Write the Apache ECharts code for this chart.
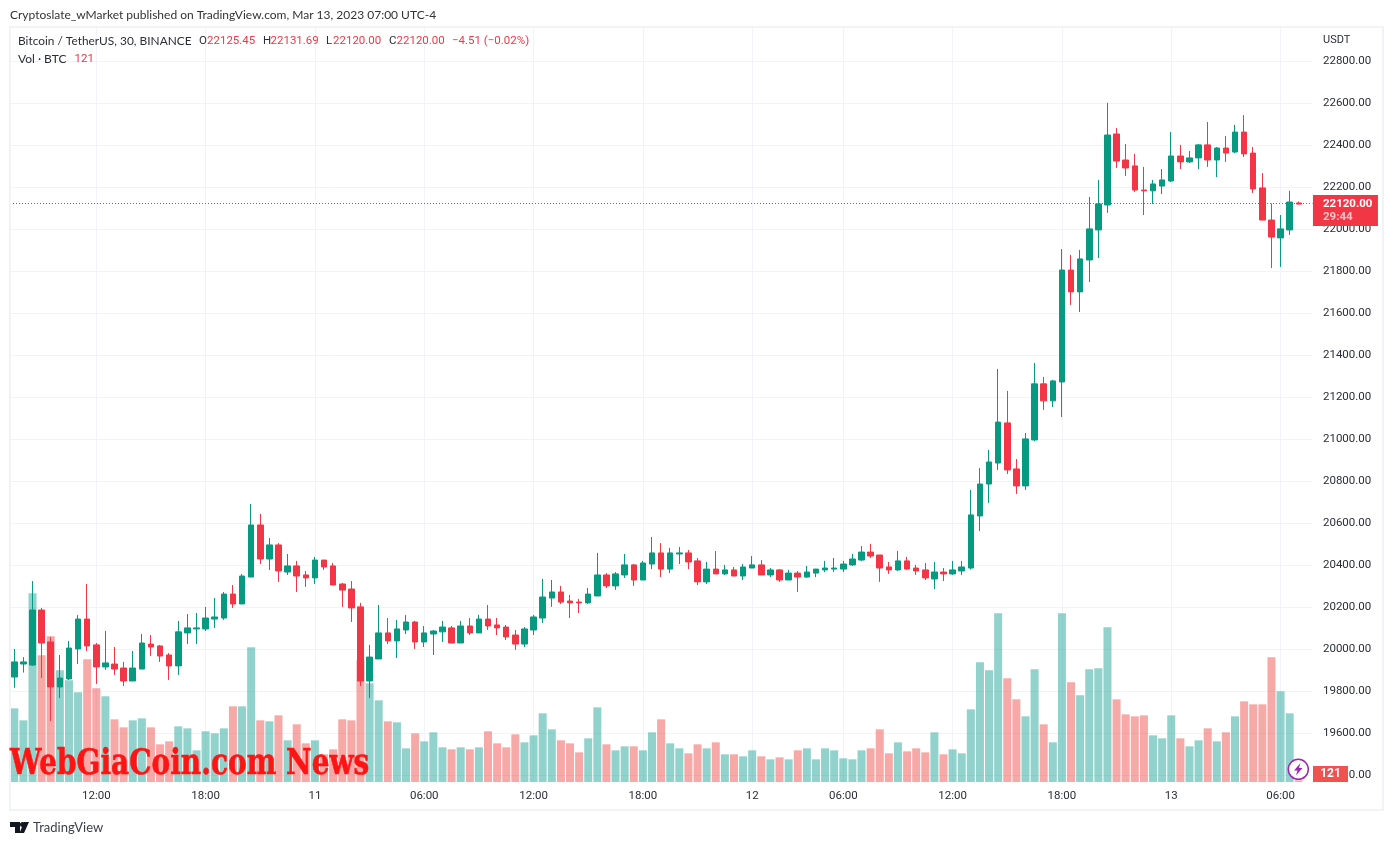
<!DOCTYPE html>
<html>
<head>
<meta charset="utf-8">
<script src="https://cdn.jsdelivr.net/npm/echarts@6/dist/echarts.min.js"></script>
<style>html,body{margin:0;padding:0;background:#fff}#c{width:1393px;height:845px}</style>
</head>
<body>
<div id="c"></div>
<script>
const opens=[19868,19930,19925,20187,20035,19821,19859,20002,20144,20021,19916,19930,19911,19849,19906,20025,20016,19973,19921,20078,20097,20097,20144,20149,20263,20216,20344,20592,20430,20497,20368,20397,20354,20340,20425,20397,20311,20287,20202,19849,19954,20078,20040,20092,20130,20035,20073,20083,20102,20030,20111,20078,20144,20116,20106,20068,20025,20092,20149,20244,20273,20230,20225,20221,20254,20354,20302,20354,20402,20330,20406,20459,20382,20454,20459,20421,20321,20382,20359,20378,20349,20387,20402,20354,20378,20330,20363,20344,20363,20378,20382,20382,20402,20425,20463,20449,20392,20378,20421,20387,20378,20335,20368,20359,20373,20387,20635,20787,20887,21078,20859,20778,20997,21264,21183,21273,21806,21702,21854,21997,22116,22454,22330,22302,22187,22183,22206,22230,22349,22321,22340,22402,22330,22387,22368,22463,22363,22197,22044,21959,21997,22125.45];
const highs=[20002,19963,20325,20197,20059,19973,20040,20163,20311,20030,20087,20011,19940,19992,20073,20068,20021,19982,20135,20168,20173,20202,20244,20273,20306,20359,20692,20644,20530,20506,20454,20421,20373,20440,20425,20411,20316,20325,20221,20021,20211,20149,20140,20163,20135,20111,20092,20135,20111,20135,20149,20164,20211,20149,20116,20092,20106,20164,20335,20330,20302,20259,20240,20292,20459,20363,20368,20454,20406,20421,20535,20506,20483,20487,20473,20435,20416,20468,20402,20392,20406,20444,20425,20387,20382,20378,20373,20397,20382,20421,20435,20421,20454,20492,20502,20449,20416,20468,20440,20402,20411,20416,20387,20421,20421,20759,20863,20949,21335,21230,20906,21030,21363,21297,21283,21906,21878,21902,22154,22235,22602,22482,22406,22359,22297,22235,22287,22463,22402,22373,22406,22511,22392,22444,22497,22544,22392,22268,22123,22068,22183,22131.69];
const lows=[19817,19889,19921,19863,19659,19768,19854,19930,19992,19835,19902,19878,19825,19849,19906,19968,19940,19854,19878,20025,20025,20087,20102,20140,20197,20216,20344,20406,20378,20321,20354,20273,20297,20311,20378,20306,20202,20130,19825,19768,19954,20025,19959,20073,20002,20011,19973,20035,20030,20030,20068,20078,20092,20068,20044,19997,20011,20068,20125,20202,20216,20149,20173,20216,20254,20292,20283,20340,20302,20330,20382,20344,20363,20406,20382,20306,20311,20359,20354,20349,20330,20387,20354,20344,20321,20330,20273,20340,20344,20368,20368,20368,20397,20421,20435,20321,20359,20373,20378,20354,20330,20287,20325,20354,20354,20380,20563,20697,20854,20835,20740,20759,20992,21140,21154,21106,21640,21606,21749,21863,22078,22292,22254,22178,22068,22121,22168,22225,22287,22316,22287,22297,22249,22321,22363,22344,22173,22044,21816,21821,21973,22120];
const closes=[19940,19940,20187,20030,19821,19863,20006,20144,20016,19916,19935,19906,19849,19911,20030,20011,19968,19921,20083,20102,20102,20149,20154,20263,20216,20349,20592,20430,20497,20373,20397,20349,20340,20425,20392,20306,20282,20197,19849,19963,20078,20040,20097,20130,20035,20078,20087,20106,20030,20111,20078,20144,20111,20102,20059,20025,20097,20154,20249,20273,20225,20221,20221,20263,20354,20302,20359,20402,20330,20411,20459,20382,20459,20459,20416,20321,20382,20359,20378,20349,20392,20402,20354,20378,20330,20363,20344,20368,20382,20387,20387,20406,20430,20463,20444,20387,20378,20421,20382,20373,20340,20368,20359,20378,20392,20640,20787,20892,21082,20854,20778,21002,21264,21183,21278,21806,21702,21859,22002,22121,22449,22325,22292,22187,22183,22216,22235,22349,22321,22340,22402,22330,22387,22363,22463,22359,22192,22044,21963,22002,22130,22120];
const volumes=[5304,4440,13584,9120,10488,8040,7320,6456,8832,6744,6168,4512,3936,4440,4584,3936,2712,2928,4008,3864,2280,3648,3504,3864,5448,5448,9696,4440,4368,4800,3000,4152,2784,3000,1992,2352,4512,4440,8760,7104,5880,4368,4296,2424,3504,2928,3576,2496,2352,2496,2352,2496,3648,2784,2496,3432,2856,3360,4944,3792,3000,2784,2136,3144,5376,2712,2280,2568,2568,2280,3576,4512,2784,2424,2064,2712,2424,2856,1992,1992,1848,2280,1848,1632,1776,1632,2280,2424,1632,2424,2280,1704,1632,2280,2424,3792,2064,2856,2208,2424,2136,3576,1992,2352,2064,5232,8616,8040,12144,7464,5952,4728,8112,4152,2856,12144,7176,6240,8112,8184,11136,5952,4872,4728,4800,3360,3144,4800,3144,2568,3000,3864,2928,3576,4728,5808,5592,5592,8976,6528,4944,121];
const tickIndex=[9,21,33,45,57,69,81,91,103,115,127,139];
const tickLabels=['12:00','18:00','11','06:00','12:00','18:00','12','06:00','12:00','18:00','13','06:00'];
const lastPrice=22120;
const volMax=54288;
const UP='#089981',DOWN='#f23645',VUP='rgba(38,166,154,0.5)',VDOWN='rgba(239,83,80,0.5)';
const GRID='#f0f3fa',TXT='#2a2e39';
const FONT='Roboto, sans-serif';
const WORDS='Lato, sans-serif';

const categories=[];
for(let i=0;i<143;i++)categories.push(String(i));
const isTick=i=>tickIndex.indexOf(i)>=0;

const candleData=opens.map((o,i)=>[o,closes[i],lows[i],highs[i]]);
const volData=volumes.map((v,i)=>({value:v,itemStyle:{color:closes[i]>opens[i]?VUP:VDOWN}}));

const chart=echarts.init(document.getElementById('c'),null,{renderer:'canvas'});
const txt=(text,x,y,fill,size,fam,sx)=>({type:'text',z:50,x,y,scaleX:sx||1,style:{text,x:0,y:0,fill,font:(size||12)+'px '+(fam||FONT),textVerticalAlign:'middle'}});
const H=41.5,H2=59;
chart.setOption({
 animation:false,
 backgroundColor:'#ffffff',
 grid:[
  {left:9.75,right:80.55,top:19.3,height:798},
  {left:9.75,right:80.55,top:28,height:754}
 ],
 xAxis:[
  {type:'category',gridIndex:0,data:categories,show:false},
  {type:'category',gridIndex:1,data:categories,
   axisLine:{show:false},axisTick:{show:false},
   axisLabel:{interval:(i)=>isTick(i),formatter:(v,i)=>{const k=tickIndex.indexOf(+v);return k>=0?tickLabels[k]:'';},color:TXT,fontFamily:'Roboto',fontSize:11.5,margin:8,hideOverlap:false},
   splitLine:{show:true,interval:(i)=>isTick(i),alignWithLabel:true,lineStyle:{color:GRID,width:1}}}
 ],
 yAxis:[
  {type:'value',gridIndex:0,position:'right',min:19200,max:23000,interval:200,scale:true,
   axisLine:{show:false},axisTick:{show:false},
   axisLabel:{formatter:v=>v.toFixed(2),color:TXT,fontFamily:'Roboto',fontSize:11.5,margin:10.5,padding:[3,0,0,0],showMinLabel:false,showMaxLabel:false},
   splitLine:{show:true,showMinLine:false,showMaxLine:false,lineStyle:{color:GRID,width:1}}},
  {type:'value',gridIndex:1,min:0,max:volMax,show:false,splitLine:{show:false}}
 ],
 series:[
  {type:'bar',name:'Vol',xAxisIndex:1,yAxisIndex:1,data:volData,barWidth:8,z:2,silent:true},
  {type:'candlestick',name:'BTCUSDT',xAxisIndex:0,yAxisIndex:0,data:candleData,barWidth:6,z:5,silent:true,
   itemStyle:{color:UP,color0:DOWN,borderColor:UP,borderColor0:DOWN,borderWidth:1}}
 ],
 graphic:[
  {type:'rect',z:40,silent:true,shape:{x:10,y:27,width:1373,height:783},style:{fill:'none',stroke:GRID,lineWidth:2}},
  txt('Cryptoslate_wMarket published on TradingView.com, Mar 13, 2023 07:00 UTC-4',10,15,'#333333',12,WORDS),
  txt('Bitcoin / TetherUS, 30, BINANCE',18,H,TXT,12,WORDS,0.99),
  txt('O',199,H,TXT,11.5),txt('22125.45',207,H,DOWN,11.5),
  txt('H',263,H,TXT,11.5),txt('22131.69',270.5,H,DOWN,11.5),
  txt('L',326,H,TXT,11.5),txt('22120.00',333,H,DOWN,11.5),
  txt('C',389,H,TXT,11.5),txt('22120.00',396.5,H,DOWN,11.5),
  txt('\u22124.51 (\u22120.02%)',452,H,DOWN,11.5),
  txt('Vol \u00b7 BTC',18,H2,TXT,12,WORDS),txt('121',74.5,H2,DOWN,11.5),
  txt('USDT',1323,40.5,TXT,11),
  {type:'text',z:60,silent:true,x:10,y:765,scaleX:0.8,style:{text:'WebGiaCoin.com News',x:0,y:0,fill:'#ff1414',stroke:'#ff1414',lineWidth:0.6,font:'bold 35px "DejaVu Serif"',textVerticalAlign:'middle'}},
  {type:'rect',z:60,shape:{x:1313,y:766,width:35,height:16},style:{fill:'#ef5350'}},
  {type:'text',z:61,style:{text:'121',x:1330.5,y:774,fill:'#fff',font:'bold 12px Roboto',textAlign:'center',textVerticalAlign:'middle'}},
  {type:'circle',z:62,shape:{cx:1298.3,cy:769.3,r:10},style:{fill:'#fff',stroke:'#9c27b0',lineWidth:1.5}},
  {type:'polygon',z:63,shape:{points:[[1300.5,763],[1294,770.5],[1297.5,770.5],[1296,775.5],[1302.5,768],[1299,768]]},style:{fill:'#9c27b0'}},
  {type:'polygon',z:60,shape:{points:[[10,822],[20,822],[20,833],[15,833],[15,827],[10,827]]},style:{fill:'#131722'}},
  {type:'circle',z:60,shape:{cx:22.5,cy:824.5,r:2.5},style:{fill:'#131722'}},
  {type:'polygon',z:60,shape:{points:[[24,833],[19.5,833],[24,822],[29,822]]},style:{fill:'#131722'}},
  txt('TradingView',33,827.5,'#3b3f4a',13,WORDS)
 ]
});
// Last-price line: the scale gives the position, snapped to a whole pixel row so the dots stay crisp.
const lastY=Math.round(chart.convertToPixel({yAxisIndex:0},lastPrice))-0.5;
chart.setOption({series:[{},{markLine:{silent:true,symbol:'none',animation:false,
  lineStyle:{color:DOWN,type:[1,2],width:1},
  data:[[{x:10,y:lastY},{x:1312.45,y:lastY}]],
  label:{show:true,position:'end',distance:0,offset:[0.5,7],formatter:'{a|22120.00}\n{b|29:44}',backgroundColor:DOWN,padding:[2,6,2,10],
   rich:{a:{color:'#fff',fontFamily:'Roboto',fontSize:11.5,fontWeight:'bold',lineHeight:14,width:49},b:{color:'#fbc4c8',fontFamily:'Roboto',fontSize:11.5,fontWeight:'bold',lineHeight:13,width:49}}}}}]});
</script>
</body>
</html>
